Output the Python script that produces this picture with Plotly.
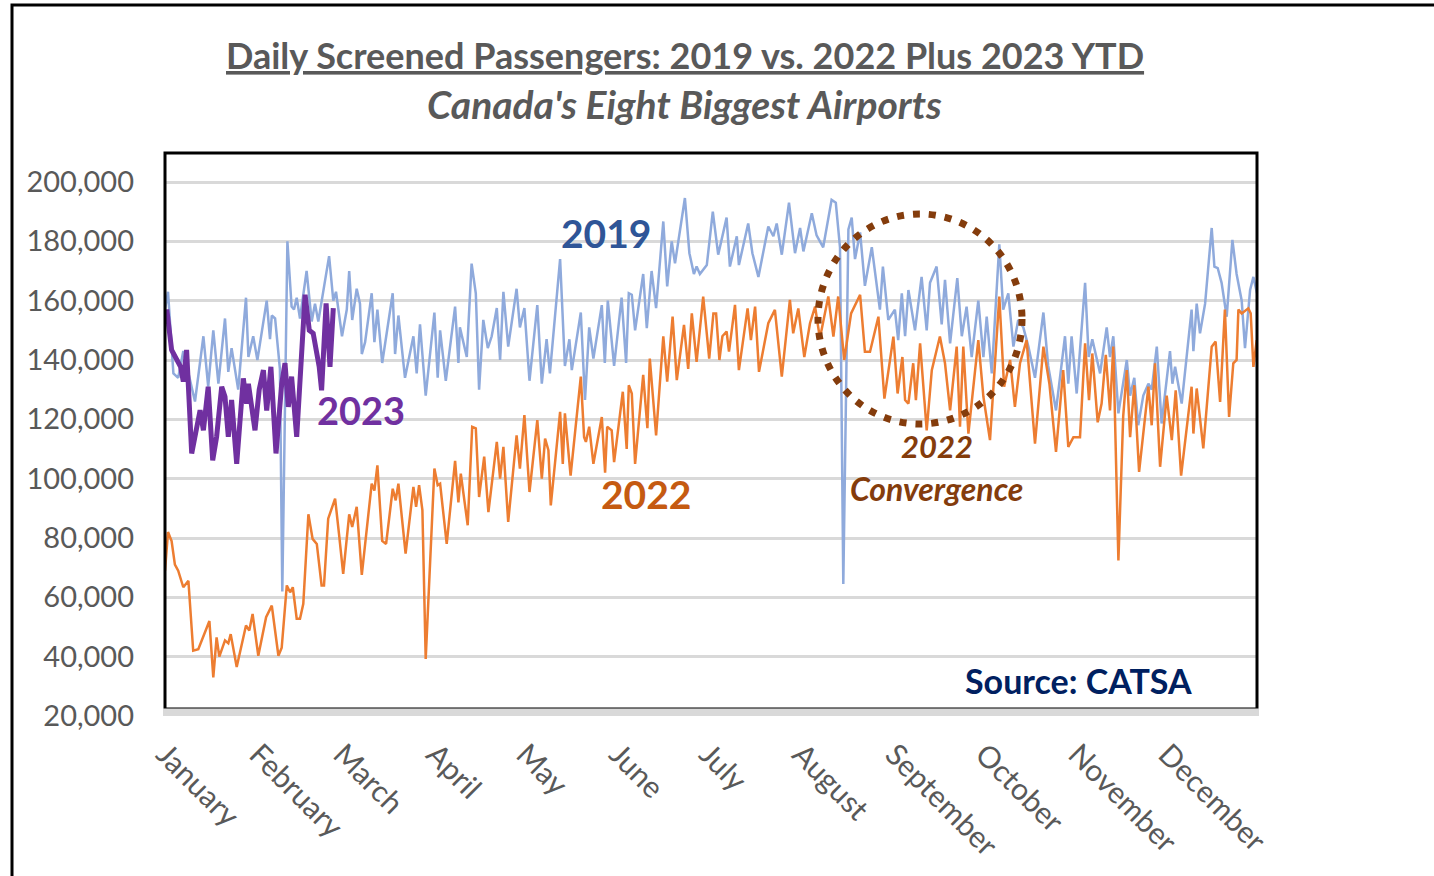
import plotly.graph_objects as go

# ---------------- data (day of year, passengers in thousands) ----------------
days_2019 = [1, 2, 3.8, 5.4, 7.1, 11, 13.8, 15.4, 17.1, 18.8, 21, 22.1, 23.2, 25.4, 28, 28.8, 30.4, 31.8,
             34.9, 36, 36.6, 37.7, 39.3, 40.1, 41.8, 43.2, 44, 44.9, 46, 48.2, 49.9, 51, 52.1, 55.7, 57.1,
             58, 60, 61.6, 62.4, 63.4, 64.9, 66, 66.6, 67.7, 69.9, 70.8, 71.8, 73.4, 76.9, 77.7, 78.8, 81,
             83.8, 84.9, 86, 87.9, 90.8, 91.9, 92.7, 94.6, 97.7, 98.8, 99.3, 101.6, 103.2, 104.6, 105.7,
             107.1, 108.6, 109.9, 111.6, 112.7, 113.8, 115.4, 118.2, 119.3, 120.8, 122.5, 125.1, 126.6,
             128.2, 129.3, 132.7, 134.3, 135.8, 136.6, 139.6, 141, 142.4, 143.8, 146.6, 147.6, 148.6, 150.7,
             153.2, 154.7, 155.6, 156.6, 157.7, 160.4, 161.6, 163.2, 164.7, 167.1, 168.4, 169.9, 171, 174.3,
             175.8, 177.3, 178.2, 179.3, 181.6, 183.6, 185.4, 188.2, 189.3, 191.6, 192.3, 195.4, 196.8,
             198.8, 202.1, 203.8, 204.9, 206.6, 209, 211, 212.7, 213.8, 216.6, 218.2, 220.4, 223.2, 224.6,
             226, 227.1, 228.8, 229.9, 231, 232.7, 234.3, 236.6, 239.3, 240.3, 242.1, 244.3, 245.4, 246.6,
             247.7, 248.8, 251, 253.2, 254.9, 256, 258.2, 259.9, 261, 262.7, 265.1, 266.6, 268.2, 269.9,
             272.1, 273.8, 274.9, 276.6, 279.1, 280.4, 282.1, 283.8, 285.4, 287.1, 288.8, 291, 293.8, 295.4,
             298, 301, 302.1, 303.2, 304.9, 307.7, 308.9, 310.1, 312.7, 314.9, 316, 317.1, 318.8, 321.6,
             322.7, 324.1, 325.4, 327.1, 328.8, 329.9, 331.6, 333.2, 336, 336.8, 337.7, 339.9, 343.2, 343.8,
             344.9, 346, 347.7, 349.9, 350.8, 351.9, 353.2, 354.9, 356.8, 358.2, 359.9, 361, 362.7, 363.8, 365]
vals_2019 = [157, 163, 135.5, 134, 143, 126, 148, 131, 150, 132, 154, 136, 144, 130, 161, 141, 148, 140,
             160, 147, 155, 154, 137, 62, 180, 158, 157, 161, 154, 170, 153, 159, 153, 175, 160,
             163, 148, 157, 170, 153.5, 164, 159, 142, 146, 162.5, 146, 157, 139, 162.5, 142, 155, 134,
             148, 135.5, 152, 128, 156, 134, 150, 133, 158, 139, 151, 141, 172.5, 162.5, 130,
             153.5, 144, 148, 157.5, 140, 163, 144.5, 164, 151, 157.5, 133, 158.5, 132,
             147, 135.5, 174, 138, 147, 136.6, 156, 126.5, 151, 140.5, 158.5, 139, 160, 138,
             161, 139, 162.5, 162, 150, 169, 150.7, 170, 157.5, 186.7, 164.8, 180, 172.6, 194.6,
             176, 169, 171.5, 169, 172, 190, 175.5, 188, 171.5, 181.7, 172, 186, 176,
             168, 185, 181.7, 186, 175.5, 193, 176, 184.5, 176.6, 189.5, 182, 178, 194, 193,
             178, 64.5, 184, 188, 174, 183, 165, 178, 157, 171.5, 153.5, 157, 146.7, 162.5,
             148, 163.6, 150, 168, 150, 166, 171.5, 152, 167, 145.6, 167.6, 148, 158, 141,
             160, 141, 154.6, 135.5, 179, 157, 162.5, 144.5, 153.5, 151, 144.5, 134, 156, 138,
             123, 148, 132, 148, 128.7, 166, 141, 147, 135.5, 151, 141, 148, 122, 140,
             128, 134, 118, 128, 132, 130, 144.5, 118.6, 143, 132, 137.7, 125.3, 157, 143,
             159, 149, 159, 184.5, 171.5, 171, 166, 154.6, 180.5, 169, 160, 144, 163.6, 168, 162.5]

days_2022 = [1, 2, 3.2, 4.3, 5.4, 7.1, 8.8, 10.4, 12.1, 15.8, 17.1, 18.2, 19.1, 21, 22.1, 22.9, 24.9, 28,
             29.1, 30.2, 32.1, 34.7, 36.6, 38.8, 39.9, 41.6, 42.7, 43.6, 44.9, 46, 47.1, 48.8, 50.2, 51.6,
             53.2, 54, 55.4, 57.7, 59, 60.4, 62.4, 63.4, 64.9, 66.6, 69.9, 70.8, 71.8, 73.4, 74.7, 76.9,
             77.9, 78.8, 81.2, 83.8, 84.7, 85.7, 86.8, 87.9, 90.8, 91.9, 92.7, 94.9, 97.7, 98.8, 99.6,
             101.9, 103.4, 104.6, 105.7, 107.4, 108.8, 111.6, 112.7, 113.8, 115.4, 118.2, 119.3, 120.8,
             122.5, 125.1, 126.6, 127.7, 128.8, 129.6, 132.7, 133.6, 134.3, 136.2, 139.6, 140.7, 141.3,
             142.4, 143.8, 146.6, 147.7, 148.4, 149.9, 150.7, 153.6, 154.9, 155.6, 156.6, 157.7, 160.4,
             161.8, 162.6, 164.7, 167.1, 168.4, 170.2, 171.6, 174, 175.4, 176.6, 178.2, 180.4, 182.4, 183.8,
             184.7, 185.8, 186.8, 188.2, 189, 191, 192.3, 195.2, 196.3, 197.7, 199, 202.1, 204.3, 206.6,
             209.3, 210.4, 212.1, 214.1, 216, 217.7, 219.3, 222.1, 223.8, 225.4, 227.4, 229.7, 232.7, 234.3,
             236, 238.8, 240.8, 243.8, 245.2, 246.8, 247.7, 248.8, 250.4, 251.3, 252.7, 254.9, 256.6, 259.3,
             261, 262.7, 264.9, 266, 267.1, 268.8, 272.1, 273.8, 276, 277.7, 279.1, 280.7, 282.7, 284.3,
             286, 288.2, 291, 293.8, 295.8, 298, 300.4, 302.1, 303.8, 306, 307.7, 309, 310.1, 311.9, 313.2,
             314.6, 316, 317.1, 318.8, 320.4, 321.6, 322.7, 324.1, 325.7, 327.1, 328.8, 329.9, 331, 332.7,
             334.9, 336.6, 337.9, 339.7, 343.2, 343.8, 344.9, 347.1, 349.9, 351.2, 352.7, 354.3, 355.7,
             357.1, 358.2, 358.8, 359.9, 362.1, 362.9, 363.8, 364.9]
vals_2022 = [69, 82, 79, 71, 69, 63.4, 65.6, 42, 42.5, 52, 33, 46.5, 40, 45.5, 44.5, 47.6, 36.5, 50.5,
             48.8, 54.4, 40.3, 53.3, 57.2, 40.3, 43, 64, 61.7, 63.4, 52.8, 52.8, 57.8, 88, 79.7, 78,
             64, 64, 86.5, 93.3, 81.4, 67.9, 88, 83.7, 90.5, 67.6, 98.3, 96, 104.5, 79, 78, 96.6,
             92.7, 98.3, 74.7, 97.2, 90.5, 97.8, 89.4, 39.2, 103.4, 97.8, 98.3, 78, 106, 92, 101.7,
             84.3, 117.5, 117, 93.8, 107.4, 88.7, 112.4, 100, 110.7, 85.4, 114.6, 103.4, 121.4,
             95.5, 119.7, 100, 113.5, 109.6, 91, 122.5, 105, 122, 101, 134.4, 114, 112.4,
             117.5, 105, 120.8, 102, 117.5, 116.3, 105.6, 129.3, 110, 131.5, 128.7, 105, 135,
             117, 140.5, 114.6, 148, 132.7, 154.6, 133.2, 151.8, 137, 155.7, 139.4, 161.4, 140.5, 155.7,
             155.7, 140, 148, 149.6, 142.8, 158.6, 136.6, 157.4, 146.7, 158, 136, 152.4, 156.9, 134.4,
             160.3, 149, 157.4, 141, 152.4, 158, 147.3, 161.4, 147.9, 161.4, 140, 155.7, 162, 142.8,
             142.8, 154.6, 127, 147.9, 128.7, 141, 126.5, 125.3, 138.9, 126.5, 145.6, 116.3, 136.6, 147.9,
             138.9, 123, 144.5, 117.5, 144.5, 115.2, 146.7, 127.6, 113, 141, 161.4, 131, 140, 124.2,
             138.9, 146.7, 111.8, 144.5, 132, 109, 136.6, 110.7, 114, 114, 145.6, 126.5, 142.2, 119, 125.3,
             141.7, 123, 144.5, 72.4, 121, 136.6, 114, 131.5, 102.3, 115, 131, 118, 138.9, 104,
             128, 113, 129.8, 101, 131, 115.2, 130.4, 110.2, 144.5, 146.2, 125.9, 157, 120.8,
             138.9, 140, 157, 155.7, 157.4, 155.7, 137.7, 146.7]

days_2023 = [1, 1.6, 3.2, 4.9, 6.2, 7.1, 8.2, 9.9, 11.6, 12.7, 13.8, 15.4, 16.9, 18.2, 19.9, 21, 22.1,
             23.2, 24.9, 27.1, 28.2, 28.8, 31, 32.4, 33.8, 34.9, 36.3, 38, 39.9, 41, 42.1, 43.2, 44.9,
             47.7, 49.1, 50.4, 52.4, 53.2, 54.7, 56, 57.1]
vals_2023 = [152, 157, 143.4, 140, 137.7, 132.7, 143.4, 108.5, 118.6, 123.1, 116.3, 131, 106.2, 114.1,
             131, 127.6, 114.1, 126.5, 105, 133.8, 125.3, 132, 116.3, 130, 136.6, 123, 137.7, 108.5,
             132, 138.9, 124.2, 134.4, 114.1, 162, 150, 149, 137.7, 129.8, 159.1, 137.7, 157.5]

months = ["January", "February", "March", "April", "May", "June", "July", "August",
          "September", "October", "November", "December"]
month_start_days = [1, 32, 60, 91, 121, 152, 182, 213, 244, 274, 305, 335]
y_ticks = [20000, 40000, 60000, 80000, 100000, 120000, 140000, 160000, 180000, 200000]

# ---------------- layout helpers (pixel -> paper) ----------------
W, H = 1434, 876
L, R, T, B = 165, 1257, 153, 716
Y_TOP = 20000 + (B - T) * (180000 / 534)


def px(x):
    return (x - L) / (R - L)


def py(y):
    return (B - y) / (B - T)


FONT = "Lato, 'Open Sans', sans-serif"
GRAY = "#595959"

fig = go.Figure()
fig.add_trace(go.Scatter(x=days_2019, y=[v * 1000 for v in vals_2019], mode="lines",
                         line=dict(color="#8FAADC", width=2.5), name="2019"))
fig.add_trace(go.Scatter(x=days_2022, y=[v * 1000 for v in vals_2022], mode="lines",
                         line=dict(color="#ED7D31", width=2.5), name="2022"))
fig.add_trace(go.Scatter(x=days_2023, y=[v * 1000 for v in vals_2023], mode="lines",
                         line=dict(color="#7030A0", width=5), name="2023"))

shapes = [
    # outer border (top + left visible)
    dict(type="rect", xref="paper", yref="paper", x0=px(12), x1=px(1445), y0=py(890), y1=py(5),
         line=dict(color="black", width=3), layer="below"),
    # plot frame
    dict(type="rect", xref="paper", yref="paper", x0=0, x1=1, y0=py(709), y1=1,
         line=dict(color="black", width=3), layer="above"),
    # thick gray base axis band at 20,000
    dict(type="line", xref="paper", yref="y", x0=px(163), x1=px(1259), y0=20000, y1=20000,
         line=dict(color="#D9D9D9", width=15), layer="above"),
    # dotted convergence ellipse
    dict(type="circle", xref="paper", yref="paper", x0=px(818), x1=px(1022), y0=py(424), y1=py(214),
         line=dict(color="#843C0C", width=7, dash="7px,9px"), layer="above"),
]

annotations = [
    dict(text="<b><u>Daily Screened Passengers: 2019 vs. 2022 Plus 2023 YTD</u></b>", x=px(685), y=py(55),
         font=dict(family=FONT, size=36, color=GRAY)),
    dict(text="<b><i>Canada's Eight Biggest Airports</i></b>", x=px(684), y=py(104),
         font=dict(family=FONT, size=39, color=GRAY)),
    dict(text="<b>2019</b>", x=px(606), y=py(233), font=dict(family=FONT, size=39, color="#2F5597")),
    dict(text="<b>2023</b>", x=px(361), y=py(410), font=dict(family=FONT, size=38, color="#7030A0")),
    dict(text="<b>2022</b>", x=px(646), y=py(494), font=dict(family=FONT, size=39, color="#C55A11")),
    dict(text="<b><i>2022</i></b>", x=px(937), y=py(446), font=dict(family=FONT, size=31, color="#843C0C")),
    dict(text="<b><i>Convergence</i></b>", x=px(936), y=py(488), font=dict(family=FONT, size=32, color="#843C0C")),
    dict(text="<b>Source: CATSA</b>", x=px(1078), y=py(680), font=dict(family=FONT, size=34, color="#002060")),
]
for a in annotations:
    a.update(xref="paper", yref="paper", showarrow=False, xanchor="center", yanchor="middle")

fig.update_layout(
    width=W, height=H,
    margin=dict(l=L, r=W - R, t=T, b=H - B, pad=0),
    paper_bgcolor="white", plot_bgcolor="white",
    showlegend=False,
    shapes=shapes, annotations=annotations,
    font=dict(family=FONT, color=GRAY),
    xaxis=dict(range=[1, 365], tickvals=month_start_days, ticktext=months, tickangle=45,
               showgrid=False, zeroline=False, showline=False, ticks="",
               tickfont=dict(family=FONT, size=30, color=GRAY), ticklabelstandoff=14),
    yaxis=dict(range=[20000, Y_TOP], tickvals=y_ticks, tickformat=",", showgrid=True,
               gridcolor="#D9D9D9", gridwidth=3, zeroline=False, showline=False, ticks="",
               tickfont=dict(family=FONT, size=29, color=GRAY), ticklabelstandoff=30),
)

fig.write_html("out.html", config={"displayModeBar": False},
               post_script="document.body.style.margin='0';document.body.style.overflow='hidden';")
